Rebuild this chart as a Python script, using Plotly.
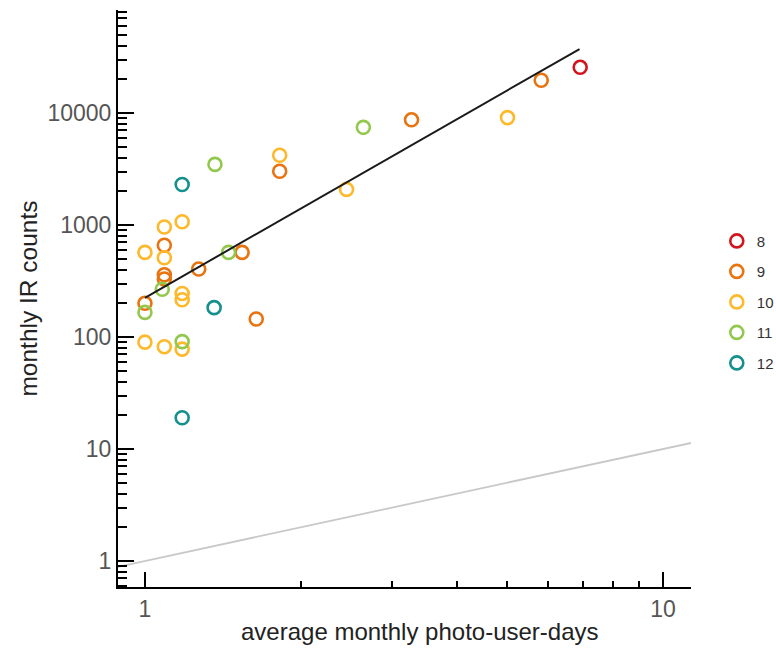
import plotly.graph_objects as go

groups = ["8", "9", "10", "11", "12"]
colors = ["#d3141c", "#e8730f", "#fdb92a", "#93c84e", "#15908c"]

x8 = [6.92]
y8 = [25600]
x9 = [1.82, 1.09, 1.54, 1.27, 1.09, 1.09, 1.0, 1.64, 3.27, 5.82]
y9 = [3020, 660, 570, 405, 360, 330, 200, 145, 8700, 19600]
x10 = [1.82, 1.18, 1.09, 1.0, 1.09, 1.18, 1.18, 1.0, 1.09, 1.18, 2.45, 5.01]
y10 = [4200, 1070, 960, 570, 510, 245, 215, 90, 82, 78, 2080, 9100]
x11 = [1.365, 1.45, 1.08, 1.0, 1.18, 2.64]
y11 = [3480, 570, 267, 166, 91, 7450]
x12 = [1.18, 1.36, 1.18]
y12 = [2300, 183, 19]

fit_x = [1.0, 6.9]
fit_y = [224, 37300]
ref_x = [0.8, 13]
ref_y = [0.8, 13]

xs = [x8, x9, x10, x11, x12]
ys = [y8, y9, y10, y11, y12]

fig = go.Figure()
fig.add_trace(go.Scatter(x=ref_x, y=ref_y, mode="lines",
                         line=dict(color="#c8c8c8", width=1.8),
                         showlegend=False, hoverinfo="skip"))
for g, c, xv, yv in zip(groups, colors, xs, ys):
    fig.add_trace(go.Scatter(
        x=xv, y=yv, mode="markers", name=g, legendgroup=g,
        marker=dict(symbol="circle-open", size=13, color=c,
                    line=dict(color=c, width=2.6)),
    ))
fig.add_trace(go.Scatter(x=fit_x, y=fit_y, mode="lines",
                         line=dict(color="#1a1a1a", width=2),
                         showlegend=False, hoverinfo="skip"))

font = "Liberation Sans, Arial, Helvetica, sans-serif"
fig.update_layout(
    width=776, height=648,
    margin=dict(l=118, r=85, t=10, b=61, autoexpand=False),
    plot_bgcolor="white", paper_bgcolor="white",
    font=dict(family=font, color="#555555", size=19),
    legend=dict(x=1.045, y=0.628, xanchor="left", yanchor="top",
                font=dict(size=15, color="#333333"),
                tracegroupgap=8, traceorder="grouped",
                itemwidth=30),
    showlegend=True,
    annotations=[dict(text="average monthly photo-user-days",
                      xref="paper", yref="paper", x=0.527, y=-0.077,
                      xanchor="center", yanchor="middle", showarrow=False,
                      font=dict(size=24, color="#222222"))],
)
fig.update_xaxes(
    type="log", range=[-0.052, 1.054], automargin=False,
    showline=True, linecolor="black", linewidth=2,
    showgrid=False, zeroline=False,
    ticks="inside", ticklen=15, tickwidth=2, tickcolor="black",
    tickvals=[1, 10], ticktext=["1", "10"],
    minor=dict(ticks="inside", ticklen=6, tickwidth=1.5, tickcolor="black",
               tickvals=[2, 3, 4, 5, 6, 7, 8, 9], showgrid=False),
    tickfont=dict(size=23, color="#555555"),
)
fig.update_yaxes(
    type="log", range=[-0.232, 4.92], automargin=False,
    showline=True, linecolor="black", linewidth=2,
    showgrid=False, zeroline=False,
    ticks="inside", ticklen=16, tickwidth=2, tickcolor="black",
    tickvals=[1, 10, 100, 1000, 10000],
    ticktext=["1", "10", "100", "1000", "10000"],
    minor=dict(ticks="inside", ticklen=9, tickwidth=1.5, tickcolor="black",
               tickvals=[0.6, 0.7, 0.8, 0.9,
                         2, 3, 4, 5, 6, 7, 8, 9,
                         20, 30, 40, 50, 60, 70, 80, 90,
                         200, 300, 400, 500, 600, 700, 800, 900,
                         2000, 3000, 4000, 5000, 6000, 7000, 8000, 9000,
                         20000, 30000, 40000, 50000, 60000, 70000, 80000],
               showgrid=False),
    title=dict(text="monthly IR counts",
               font=dict(size=24.5, color="#222222"), standoff=3),
    tickfont=dict(size=23, color="#555555"),
)

fig.write_html("out.html")
